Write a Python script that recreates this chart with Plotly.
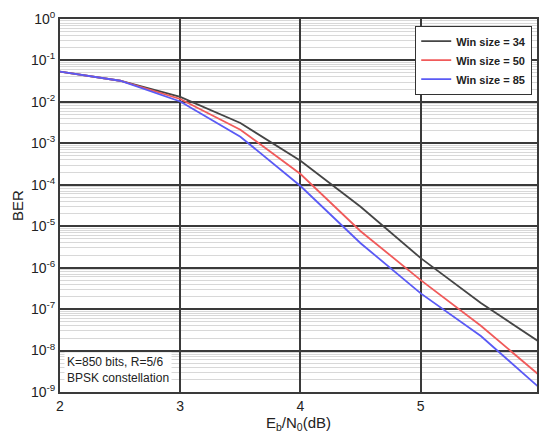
import plotly.graph_objects as go

ebn0 = [2, 2.5, 3, 3.5, 4, 4.5, 5, 5.5, 6]
log_ber_34 = [-1.27, -1.49, -1.88, -2.51, -3.42, -4.53, -5.77, -6.85, -7.82]
log_ber_50 = [-1.27, -1.49, -1.93, -2.67, -3.74, -5.12, -6.30, -7.40, -8.63]
log_ber_85 = [-1.27, -1.49, -1.99, -2.84, -4.03, -5.41, -6.62, -7.65, -8.93]
series_names = ["Win size = 34", "Win size = 50", "Win size = 85"]
series_colors = ["#454545", "#f05a5a", "#5a5af5"]
y_exponents = [0, -1, -2, -3, -4, -5, -6, -7, -8, -9]
x_ticks = [2, 3, 4, 5, 6]

fig = go.Figure()
for name, color, logs in zip(series_names, series_colors, [log_ber_34, log_ber_50, log_ber_85]):
    fig.add_trace(go.Scatter(
        x=ebn0, y=[10 ** v for v in logs], mode="lines", name="<b>%s</b>" % name,
        line=dict(color=color, width=1.8)))

grid_col = "#3a3a3a"
fig.update_layout(
    width=539, height=439,
    margin=dict(l=60, r=0, t=19, b=47),
    paper_bgcolor="white", plot_bgcolor="white",
    font=dict(family="Liberation Sans, Arial, sans-serif", color="#222"),
    showlegend=True,
    legend=dict(
        x=0.99, y=0.982, xanchor="right", yanchor="top",
        bgcolor="white", bordercolor="#333", borderwidth=1,
        font=dict(size=11, family="Liberation Sans, Arial, sans-serif", color="#222"),
        itemwidth=30, tracegroupgap=0,
    ),
    xaxis=dict(
        range=[2, 5.967], tickvals=x_ticks, ticktext=[str(v) for v in x_ticks],
        showgrid=True, gridcolor=grid_col, gridwidth=1.8,
        showline=True, linecolor=grid_col, linewidth=1.8, mirror=True,
        ticks="", tickfont=dict(size=14),
        zeroline=False,
        title=dict(text="E<sub>b</sub>/N<sub>0</sub>(dB)", font=dict(size=15), standoff=2),
    ),
    yaxis=dict(
        type="log", range=[-9, 0],
        tickvals=[10 ** e for e in y_exponents],
        ticktext=["10<sup>%d</sup>" % e for e in y_exponents],
        showgrid=True, gridcolor=grid_col, gridwidth=1.8,
        showline=True, linecolor=grid_col, linewidth=1.8, mirror=True,
        ticks="", tickfont=dict(size=14),
        minor=dict(dtick="D1", showgrid=True, gridcolor="#d8d8d8", gridwidth=1),
        title=dict(text="BER", font=dict(size=15), standoff=4),
    ),
)

fig.add_annotation(
    xref="paper", yref="paper", x=0.008, y=0.012, xanchor="left", yanchor="bottom",
    text="K=850 bits, R=5/6<br>BPSK constellation", showarrow=False, align="left",
    font=dict(size=12, color="#222"), bgcolor="white", borderpad=2,
)

fig.write_html("out.html", config={"displayModeBar": False},
               post_script="document.body.style.margin='0px';")
